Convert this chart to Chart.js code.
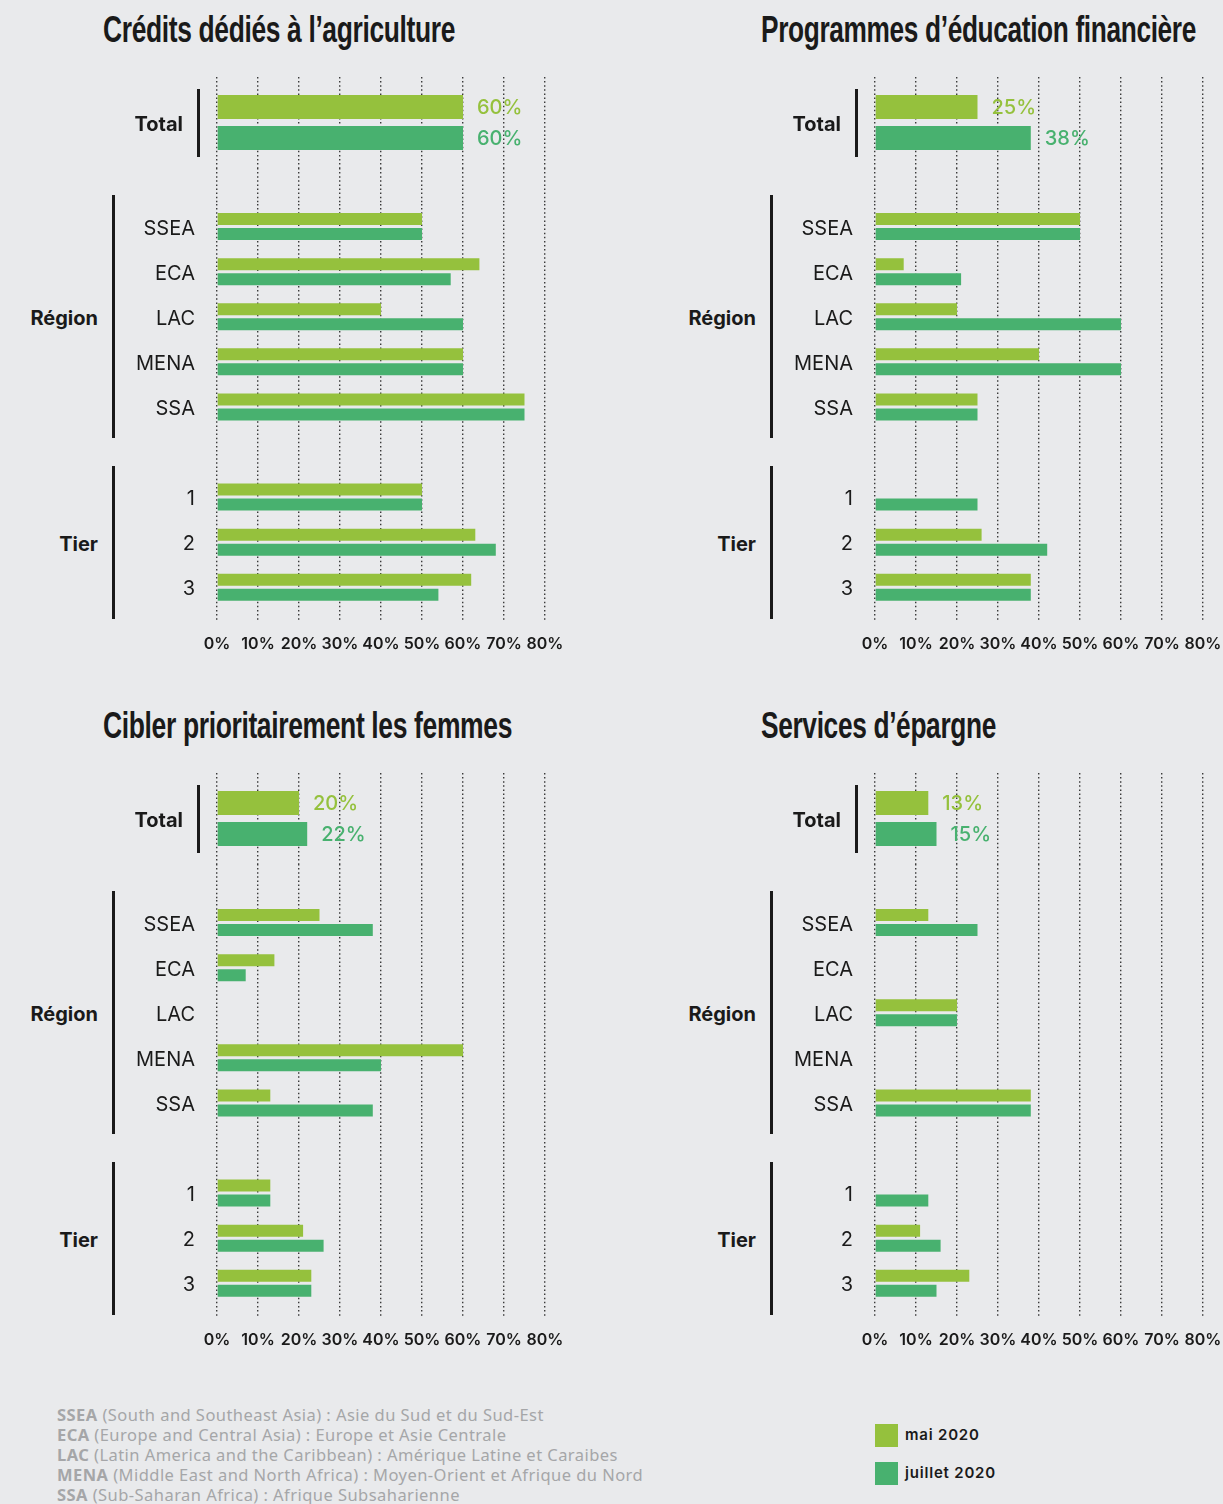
<!DOCTYPE html>
<html lang="fr">
<head>
<meta charset="utf-8">
<title>Crédits, éducation financière, femmes, épargne</title>
<script src="https://cdn.jsdelivr.net/npm/chart.js@4.4.0/dist/chart.umd.min.js"></script>
<style>
  html, body { margin: 0; padding: 0; }
  body {
    width: 1223px; height: 1504px; position: relative; overflow: hidden;
    background: #e9eaec; color: #1a1a1a;
    font-family: Inter, "Noto Sans", sans-serif;
  }
  .abs { position: absolute; }
  .title {
    position: absolute; white-space: nowrap; line-height: 37px;
    font: bold 37px "Liberation Sans Narrow", "Liberation Sans", sans-serif;
    letter-spacing: -0.5px; transform-origin: left center;
  }
  .group { position: absolute; width: 100px; text-align: right; font-weight: 700; font-size: 20px; line-height: 24px; }
  .bracket { position: absolute; width: 2.5px; background: #1a1a1a; }
  .notes {
    position: absolute; left: 57px; top: 1405px; color: #a5a6a8;
    font: 16.5px "Noto Sans", "Liberation Sans", sans-serif; line-height: 20px;
    letter-spacing: 0.45px;
  }
  .legend { position: absolute; left: 875px; font-weight: 600; font-size: 15px; letter-spacing: 0.8px; }
  .legend span { display: inline-block; width: 23px; height: 23px; vertical-align: middle; margin-right: 7px; }
</style>
</head>
<body>

<div class="notes">
  <div><b>SSEA</b> (South and Southeast Asia) : Asie du Sud et du Sud-Est</div>
  <div><b>ECA</b> (Europe and Central Asia) : Europe et Asie Centrale</div>
  <div><b>LAC</b> (Latin America and the Caribbean) : Amérique Latine et Caraibes</div>
  <div><b>MENA</b> (Middle East and North Africa) : Moyen-Orient et Afrique du Nord</div>
  <div><b>SSA</b> (Sub-Saharan Africa) : Afrique Subsaharienne</div>
</div>
<div class="legend" style="top:1424px"><span style="background:#95c13d"></span>mai 2020</div>
<div class="legend" style="top:1462px"><span style="background:#48b16f"></span>juillet 2020</div>

<script>
// --- data (in %) ---
const seriesNames = ['mai 2020', 'juillet 2020'];
const totalLabel = ['Total'];
const categories = ['SSEA', 'ECA', 'LAC', 'MENA', 'SSA', '', '1', '2', '3'];
const groupNames = ['Région', 'Tier'];

const agriTitle = 'Crédits dédiés à l\u2019agriculture';
const agriTotal = [60, 60];
const agriMai = [50, 64, 40, 60, 75, null, 50, 63, 62];
const agriJuillet = [50, 57, 60, 60, 75, null, 50, 68, 54];

const eduTitle = 'Programmes d\u2019éducation financière';
const eduTotal = [25, 38];
const eduMai = [50, 7, 20, 40, 25, null, null, 26, 38];
const eduJuillet = [50, 21, 60, 60, 25, null, 25, 42, 38];

const femTitle = 'Cibler prioritairement les femmes';
const femTotal = [20, 22];
const femMai = [25, 14, null, 60, 13, null, 13, 21, 23];
const femJuillet = [38, 7, null, 40, 38, null, 13, 26, 23];

const eparTitle = 'Services d\u2019épargne';
const eparTotal = [13, 15];
const eparMai = [13, null, 20, null, 38, null, null, 11, 23];
const eparJuillet = [25, null, 20, null, 38, null, 13, 16, 15];

// --- styling ---
const MAI = '#95c13d';
const JUIL = '#48b16f';
const FONT = 'Inter, "Noto Sans", sans-serif';
const DOT = [1.5, 2.6];

Chart.defaults.font.family = FONT;
Chart.defaults.color = '#1a1a1a';

const totalLabels = {
  id: 'totalLabels',
  afterDatasetsDraw(chart) {
    const ctx = chart.ctx;
    ctx.save();
    ctx.font = '500 20px ' + FONT;
    ctx.textBaseline = 'middle';
    chart.data.datasets.forEach((ds, i) => {
      chart.getDatasetMeta(i).data.forEach((bar, j) => {
        const v = ds.data[j];
        if (v == null) return;
        ctx.fillStyle = ds.backgroundColor;
        ctx.fillText(v + '%', bar.x + 14, bar.y + 1);
      });
    });
    ctx.restore();
  }
};

function xScale(showLabels, tickLen) {
  return {
    min: 0, max: 80,
    border: { display: false, dash: DOT },
    grid: { color: '#3a3a3a', lineWidth: 1.4, tickLength: tickLen, tickBorderDash: DOT },
    ticks: {
      display: showLabels, stepSize: 10, padding: 15,
      autoSkip: false, maxRotation: 0, minRotation: 0,
      font: { size: 16, weight: 600 },
      callback: v => v + '%'
    },
    afterFit: s => { s.paddingLeft = 0; s.paddingRight = 0; }
  };
}

function yScale(width, padding, bold) {
  return {
    grid: { display: false, drawTicks: false },
    border: { display: false },
    ticks: { padding: padding, labelOffset: 2, font: { size: 20, weight: bold ? 700 : 400 } },
    afterFit: s => { s.width = width; s.paddingTop = 0; s.paddingBottom = 0; }
  };
}

function addCanvas(left, top, w, h) {
  const c = document.createElement('canvas');
  c.width = w; c.height = h;
  c.className = 'abs';
  c.style.left = left + 'px';
  c.style.top = top + 'px';
  document.body.appendChild(c);
  return c;
}

function addDiv(cls, left, top, w, h, text) {
  const d = document.createElement('div');
  d.className = cls;
  d.style.left = left + 'px';
  d.style.top = top + 'px';
  if (w != null) d.style.width = w + 'px';
  if (h != null) d.style.height = h + 'px';
  if (text) d.textContent = text;
  document.body.appendChild(d);
  return d;
}

function panel(dx, dy, title, titleWidth, total, mai, juillet) {
  // title, squeezed to the condensed width of the original
  const t = addDiv('title', dx + 103, dy + 9, null, null, title);
  t.style.transform = 'scaleX(' + (titleWidth / t.getBoundingClientRect().width) + ')';

  // brackets and group labels
  addDiv('bracket', dx + 197, dy + 89, null, 68);
  addDiv('bracket', dx + 112, dy + 195, null, 243);
  addDiv('bracket', dx + 112, dy + 466, null, 153);
  addDiv('group', dx - 2, dy + 306, 100, null, groupNames[0]);
  addDiv('group', dx - 2, dy + 532, 100, null, groupNames[1]);

  // Total chart
  new Chart(addCanvas(dx + 100, dy + 77, 465, 127), {
    type: 'bar',
    data: {
      labels: totalLabel,
      datasets: [
        { label: seriesNames[0], data: [total[0]], backgroundColor: MAI },
        { label: seriesNames[1], data: [total[1]], backgroundColor: JUIL }
      ]
    },
    options: {
      indexAxis: 'y', responsive: false, animation: false,
      categoryPercentage: 0.681, barPercentage: 0.774,
      layout: { padding: { right: 20 } },
      plugins: { legend: { display: false }, tooltip: { enabled: false } },
      scales: { x: xScale(false, 36), y: yScale(117, 34, true) }
    },
    plugins: [totalLabels]
  });

  // Région + Tier chart
  new Chart(addCanvas(dx + 100, dy + 204, 465, 465), {
    type: 'bar',
    data: {
      labels: categories,
      datasets: [
        { label: seriesNames[0], data: mai, backgroundColor: MAI },
        { label: seriesNames[1], data: juillet, backgroundColor: JUIL }
      ]
    },
    options: {
      indexAxis: 'y', responsive: false, animation: false,
      categoryPercentage: 0.665, barPercentage: 0.8,
      layout: { padding: { right: 20 } },
      plugins: { legend: { display: false }, tooltip: { enabled: false } },
      scales: { x: xScale(true, 10), y: yScale(117, 22, false) }
    }
  });
}

panel(0, 0, agriTitle, 352, agriTotal, agriMai, agriJuillet);
panel(658, 0, eduTitle, 435, eduTotal, eduMai, eduJuillet);
panel(0, 696, femTitle, 409, femTotal, femMai, femJuillet);
panel(658, 696, eparTitle, 235, eparTotal, eparMai, eparJuillet);
</script>
</body>
</html>
